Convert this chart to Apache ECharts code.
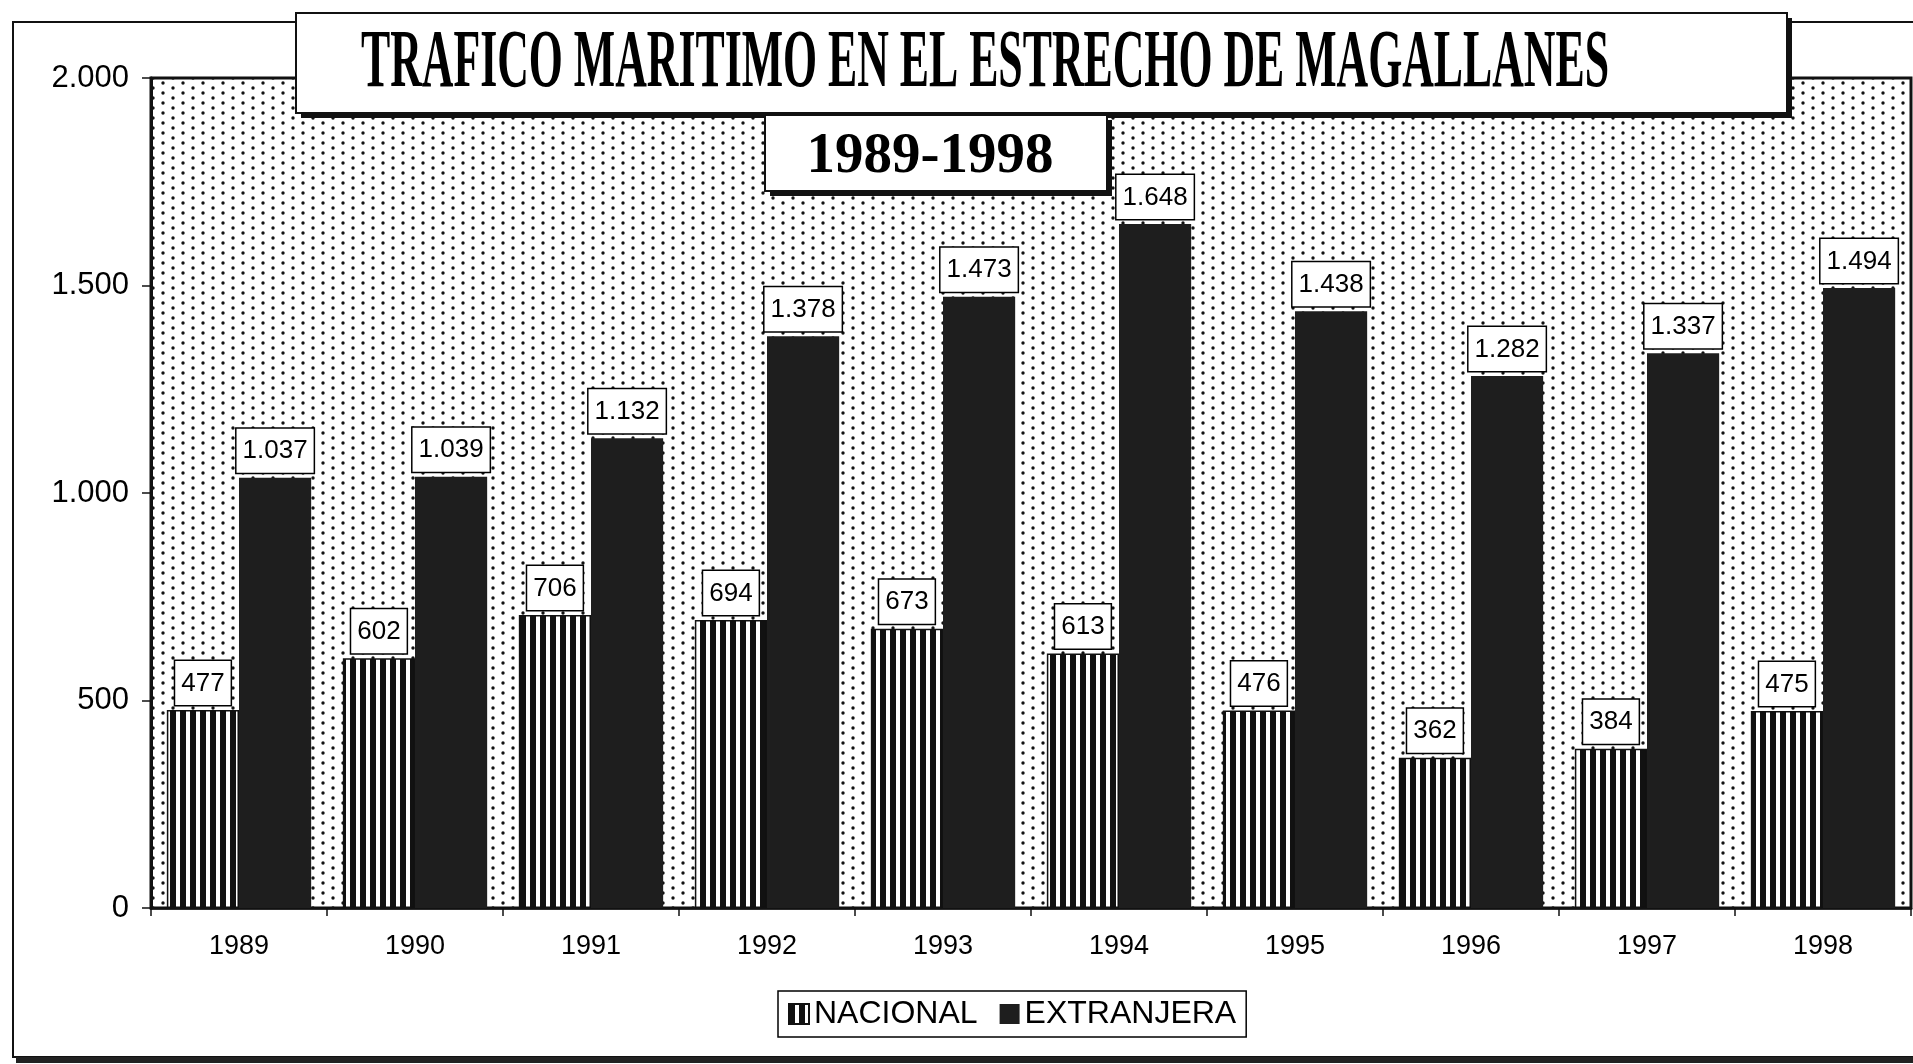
<!DOCTYPE html>
<html lang="es">
<head>
    <meta charset="UTF-8">
    <title>Trafico maritimo</title>
    <script src="https://cdn.jsdelivr.net/npm/echarts@6/dist/echarts.min.js"></script>
    <style>
        html, body { margin: 0; padding: 0; background: #fff; }
        #main { width: 1913px; height: 1064px; }
    </style>
</head>
<body>
<div id="main"></div>
<script type="text/javascript">
// datos del grafico
var years = ['1989', '1990', '1991', '1992', '1993', '1994', '1995', '1996', '1997', '1998'];
var nacional = [477, 602, 706, 694, 673, 613, 476, 362, 384, 475];
var extranjera = [1037, 1039, 1132, 1378, 1473, 1648, 1438, 1282, 1337, 1494];
var yTicks = [0, 500, 1000, 1500, 2000];

// miles con punto
function fmt(v) {
    return String(v).replace(/\B(?=(\d{3})+(?!\d))/g, '.');
}

// fondo punteado
var dots = document.createElement('canvas');
dots.width = 20; dots.height = 10;
var c1 = dots.getContext('2d');
c1.fillStyle = '#fff';
c1.fillRect(0, 0, 20, 10);
c1.fillStyle = '#111';
c1.beginPath(); c1.arc(3, 3, 1.7, 0, Math.PI * 2); c1.fill();
c1.beginPath(); c1.arc(13, 8, 1.7, 0, Math.PI * 2); c1.fill();

// barras verticales
var stripes = document.createElement('canvas');
stripes.width = 10; stripes.height = 10;
var c2 = stripes.getContext('2d');
c2.fillStyle = '#fff';
c2.fillRect(0, 0, 10, 10);
c2.fillStyle = '#111';
c2.fillRect(0, 0, 6, 10);

var myChart = echarts.init(document.getElementById('main'));

var labelStyle = {
    show: true,
    position: 'top',
    distance: 5,
    formatter: function (p) { return fmt(p.value); },
    fontFamily: 'Liberation Sans',
    fontSize: 26,
    lineHeight: 27,
    color: '#000',
    backgroundColor: '#fff',
    borderColor: '#000',
    borderWidth: 1.5,
    padding: [9, 6, 8, 6]
};

myChart.setOption({
    animation: false,
    grid: {
        left: 151,
        right: 2,
        top: 78,
        bottom: 156,
        show: true,
        backgroundColor: { image: dots, repeat: 'repeat' },
        borderColor: '#111',
        borderWidth: 3
    },
    legend: {
        left: 778,
        top: 991,
        padding: [7, 10, 7, 10],
        itemGap: 22,
        itemWidth: 20,
        itemHeight: 20,
        borderColor: '#000',
        borderWidth: 1.5,
        backgroundColor: '#fff',
        textStyle: { fontFamily: 'Liberation Sans', fontSize: 32, color: '#000' },
        data: [
            { name: 'NACIONAL', icon: 'rect' },
            { name: 'EXTRANJERA', icon: 'rect' }
        ]
    },
    xAxis: {
        type: 'category',
        data: years,
        axisLine: { lineStyle: { color: '#111', width: 2.5 } },
        axisTick: { show: true, length: 8, lineStyle: { color: '#111', width: 1.5 } },
        axisLabel: { fontFamily: 'Liberation Sans', fontSize: 27, color: '#000', margin: 25 },
        splitLine: { show: false }
    },
    yAxis: {
        type: 'value',
        min: yTicks[0],
        max: yTicks[yTicks.length - 1],
        interval: 500,
        axisLine: { show: true, lineStyle: { color: '#111', width: 3 } },
        axisTick: { show: true, length: 9, lineStyle: { color: '#111', width: 1.5 } },
        axisLabel: {
            fontFamily: 'Liberation Sans', fontSize: 31, color: '#000', margin: 22,
            formatter: function (v) { return fmt(v); }
        },
        splitLine: { show: false }
    },
    series: [
        {
            name: 'NACIONAL',
            type: 'bar',
            data: nacional,
            barGap: '0%',
            barCategoryGap: '18%',
            itemStyle: {
                color: { image: stripes, repeat: 'repeat' },
                borderColor: '#111',
                borderWidth: 1.5
            },
            label: labelStyle
        },
        {
            name: 'EXTRANJERA',
            type: 'bar',
            data: extranjera,
            barGap: '0%',
            barCategoryGap: '18%',
            itemStyle: { color: '#1e1e1e' },
            label: labelStyle
        }
    ],
    graphic: [
        // marco exterior
        { type: 'rect', z: 0, silent: true,
          shape: { x: 13, y: 22, width: 1960, height: 1035 },
          style: { fill: 'none', stroke: '#111', lineWidth: 2 } },
        { type: 'rect', z: 0, silent: true,
          shape: { x: 16, y: 1057, width: 1960, height: 6 },
          style: { fill: '#222' } },
        // caja del titulo
        { type: 'rect', z: 100, silent: true,
          shape: { x: 301, y: 18, width: 1491, height: 100 },
          style: { fill: '#111' } },
        { type: 'rect', z: 101, silent: true,
          shape: { x: 296, y: 13, width: 1491, height: 100 },
          style: { fill: '#fff', stroke: '#111', lineWidth: 2 } },
        { type: 'text', z: 102, silent: true,
          x: 985, y: 65, scaleX: 0.534,
          style: {
              text: 'TRAFICO MARITIMO EN EL ESTRECHO DE MAGALLANES',
              font: 'bold 82px "Liberation Serif"',
              fill: '#000', textAlign: 'center', textVerticalAlign: 'middle'
          } },
        // caja del subtitulo
        { type: 'rect', z: 100, silent: true,
          shape: { x: 770, y: 120, width: 342, height: 76 },
          style: { fill: '#111' } },
        { type: 'rect', z: 101, silent: true,
          shape: { x: 765, y: 115, width: 342, height: 76 },
          style: { fill: '#fff', stroke: '#111', lineWidth: 2 } },
        { type: 'text', z: 102, silent: true,
          x: 930, y: 157,
          style: {
              text: '1989-1998',
              font: 'bold 57px "Liberation Serif"',
              fill: '#000', textAlign: 'center', textVerticalAlign: 'middle'
          } }
    ]
});
</script>
</body>
</html>
